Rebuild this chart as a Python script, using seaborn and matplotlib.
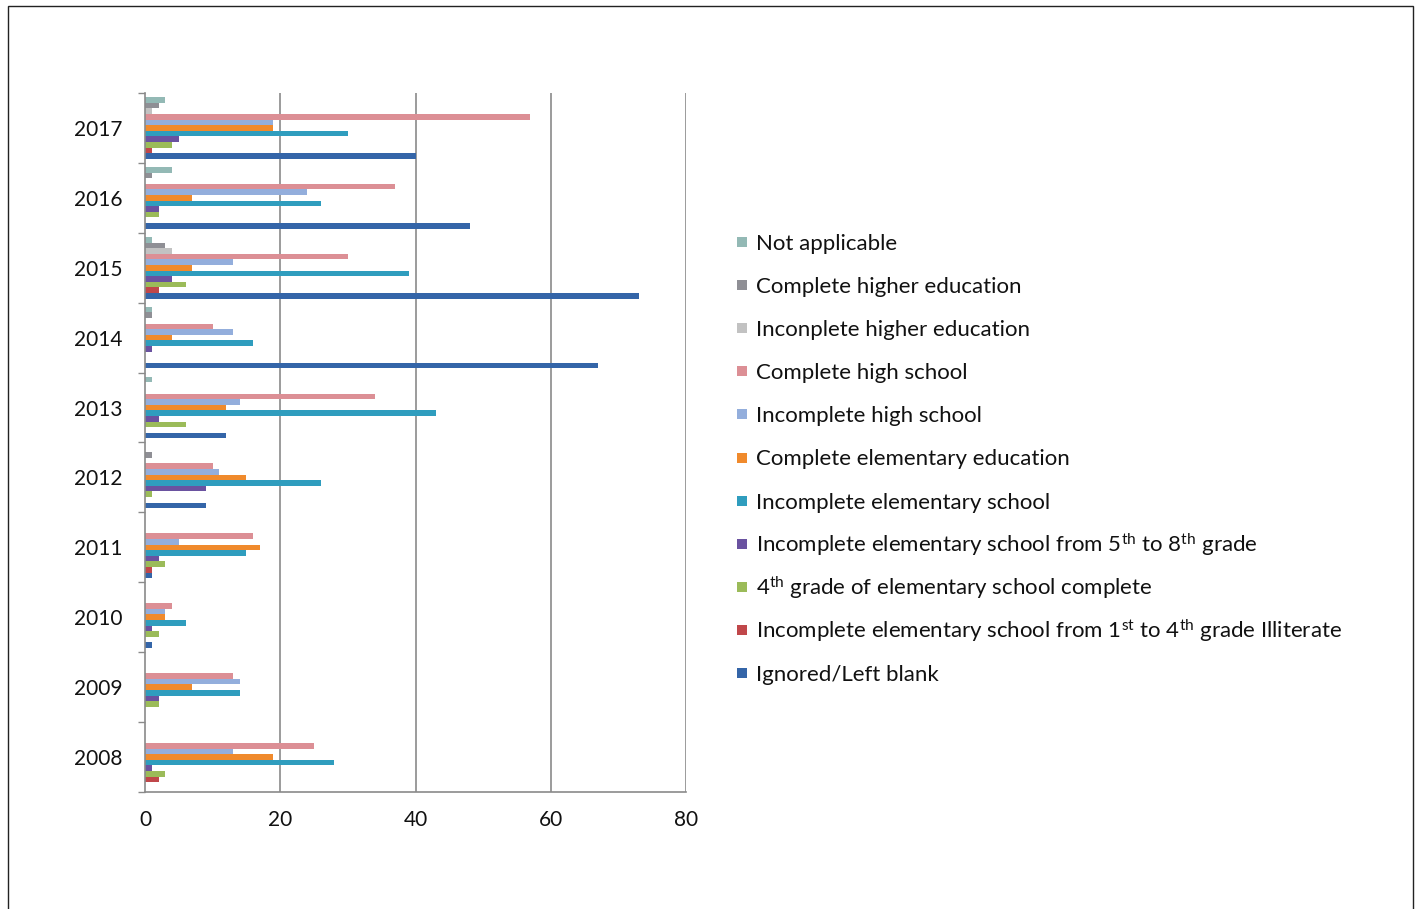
import matplotlib
matplotlib.use("Agg")
import matplotlib.pyplot as plt
import matplotlib.patches as mpatches
import numpy as np
import pandas as pd
import seaborn as sns

# Years shown on the category axis (top to bottom)
years = ["2017", "2016", "2015", "2014", "2013", "2012", "2011", "2010", "2009", "2008"]

# Education level series, listed in legend order (top to bottom)
levels = [
    "Not applicable",
    "Complete higher education",
    "Inconplete higher education",
    "Complete high school",
    "Incomplete high school",
    "Complete elementary education",
    "Incomplete elementary school",
    r"Incomplete elementary school from 5$^{\rm th}$ to 8$^{\rm th}$ grade",
    r"4$^{\rm th}$ grade of elementary school complete",
    r"Incomplete elementary school from 1$^{\rm st}$ to 4$^{\rm th}$ grade Illiterate",
    "Ignored/Left blank",
]

# Counts per year (same order as `years`)
not_applicable        = [3, 4, 1, 1, 1, 0, 0, 0, 0, 0]
complete_higher       = [2, 1, 3, 1, 0, 1, 0, 0, 0, 0]
incomplete_higher     = [1, 0, 4, 0, 0, 0, 0, 0, 0, 0]
complete_high_school  = [57, 37, 30, 10, 34, 10, 16, 4, 13, 25]
incomplete_high_school = [19, 24, 13, 13, 14, 11, 5, 3, 14, 13]
complete_elementary   = [19, 7, 7, 4, 12, 15, 17, 3, 7, 19]
incomplete_elementary = [30, 26, 39, 16, 43, 26, 15, 6, 14, 28]
incomplete_5_to_8     = [5, 2, 4, 1, 2, 9, 2, 1, 2, 1]
fourth_grade_complete = [4, 2, 6, 0, 6, 1, 3, 2, 2, 3]
incomplete_1_to_4     = [1, 0, 2, 0, 0, 0, 1, 0, 0, 2]
ignored_blank         = [40, 48, 73, 67, 12, 9, 1, 1, 0, 0]

series = [
    not_applicable, complete_higher, incomplete_higher, complete_high_school,
    incomplete_high_school, complete_elementary, incomplete_elementary,
    incomplete_5_to_8, fourth_grade_complete, incomplete_1_to_4, ignored_blank,
]

colors = [
    "#93b9b5", "#8f8f95", "#c2c2c2", "#dc8f95", "#93aedc", "#f08a2c",
    "#2f9dbe", "#6a52a0", "#9bbb59", "#c0474a", "#3465a8",
]

rows = []
for level, vals in zip(levels, series):
    for y, v in zip(years, vals):
        rows.append({"year": y, "level": level, "count": v})
df = pd.DataFrame(rows)

sns.set_theme(style="white")
plt.rcParams["font.family"] = ["Lato", "DejaVu Sans"]
plt.rcParams["mathtext.fontset"] = "custom"
plt.rcParams["mathtext.rm"] = "Lato"
plt.rcParams["mathtext.it"] = "Lato:italic"
plt.rcParams["mathtext.bf"] = "Lato:bold"

W, H = 1420, 909
fig = plt.figure(figsize=(W / 100, H / 100), dpi=100)
fig.patch.set_facecolor("white")
ax = fig.add_axes([145 / W, 1 - 792 / H, (686 - 145) / W, (792 - 93) / H])

sns.barplot(
    data=df, x="count", y="year", hue="level",
    order=years, hue_order=levels, palette=colors,
    orient="h", width=0.88, gap=0, linewidth=0, saturation=1,
    legend=False, ax=ax,
)

ax.set_xlim(0, 80)
ax.set_xticks([0, 20, 40, 60, 80])
ax.set_ylim(len(years) - 0.5, -0.5)
ax.set_xlabel("")
ax.set_ylabel("")
ax.grid(False)
for xv in [20, 40, 60, 80]:
    ax.axvline(xv, color="#8a8a8a", lw=1.2, zorder=0)

for side in ["top", "right"]:
    ax.spines[side].set_visible(False)
for side in ["left", "bottom"]:
    ax.spines[side].set_color("#8a8a8a")
    ax.spines[side].set_linewidth(1.2)

ax.set_yticks(np.arange(len(years) + 1) - 0.5, minor=True)
ax.tick_params(axis="y", which="minor", left=True, length=5, width=1, color="#8a8a8a")
ax.tick_params(axis="y", which="major", length=0, pad=16, labelsize=15, labelcolor="#111111")
ax.tick_params(axis="x", which="major", bottom=False, length=0, pad=13, labelsize=15, labelcolor="#111111")

# Legend: evenly spaced square swatches with labels
first_row, row_step = 242, 43.1
for i, (label, color) in enumerate(zip(levels, colors)):
    yc = first_row + row_step * i
    fig.patches.append(mpatches.Rectangle(
        (737 / W, 1 - (yc + 5) / H), 10 / W, 10 / H,
        transform=fig.transFigure, facecolor=color, edgecolor="none"))
    fig.text(756 / W, 1 - (yc + 8) / H, label, fontsize=16,
             color="#111111", va="baseline", ha="left")

# Thin frame around the figure panel
fig.patches.append(mpatches.Rectangle(
    (8 / W, -0.05), (1413 - 8) / W, 1.05 - 6 / H, transform=fig.transFigure,
    fill=False, edgecolor="#222222", lw=1.0))

fig.savefig("out.png", dpi=100, facecolor="white")
